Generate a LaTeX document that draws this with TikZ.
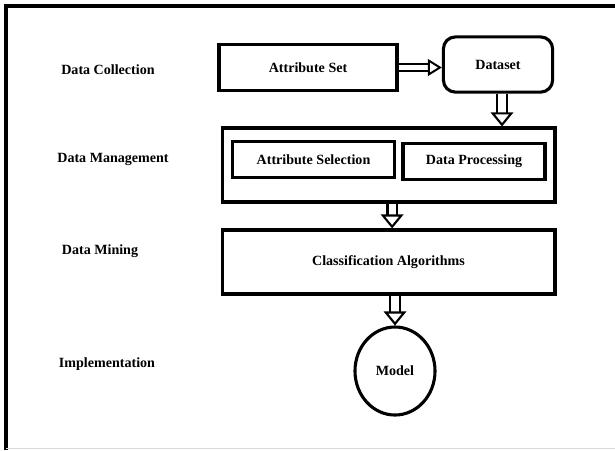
\documentclass[tikz,border=0pt]{standalone}
\usepackage{fontspec}
\setmainfont{Liberation Serif}
\usetikzlibrary{arrows.meta,shapes.geometric}

\tikzset{
  stage/.style={font=\bfseries\fontsize{10}{12}\selectfont},
  blockbox/.style={draw, line width=2.2pt, inner sep=0pt, font=\bfseries\fontsize{10}{12}\selectfont},
  hollowarrow/.style={double, double distance=5pt, line width=1.5pt,
    -{Triangle[length=10pt, width=16pt, fill=white, line width=1.5pt 0 0]}},
  sidearrow/.style={double, double distance=3.4pt, line width=1.4pt,
    -{Triangle[length=10pt, width=12pt, fill=white, line width=1.4pt 0 0]}},
}

\begin{document}
\begin{tikzpicture}[x=0.025cm, y=-0.025cm]
        \useasboundingbox (0, 0) rectangle (615, 450);
        % frame
        \draw[line width=2.2pt] (6, 450) -- (6, 6) -- (615, 6);
        \draw[black!15, line width=0.8pt] (6, 448.5) -- (615, 448.5);
        % stage labels
        \node[stage] (lblcollect) at (108, 70) {Data Collection};
        \node[stage] (lblmanage) at (113, 159) {Data Management};
        \node[stage] (lblmining) at (100, 251) {Data Mining};
        \node[stage] (lblimpl) at (107, 364) {Implementation};
        % blocks
        \node[blockbox, minimum width=4.45cm, minimum height=1.14cm] (attrset) at (308, 67.5) {Attribute Set};
        \node[blockbox, rounded corners=0.3cm, minimum width=2.73cm, minimum height=1.38cm] (dataset) at (498, 64.5) {Dataset};
        \node[blockbox, minimum width=8.32cm, minimum height=1.85cm] (mgmt) at (388.5, 165) {};
        \node[blockbox, minimum width=4.07cm, minimum height=0.88cm] (attrsel) at (313.5, 159.5) {Attribute Selection};
        \node[blockbox, minimum width=3.55cm, minimum height=0.92cm] (dataproc) at (474, 161.5) {Data Processing};
        \node[blockbox, minimum width=8.32cm, minimum height=1.6cm] (classalg) at (388.5, 262) {Classification Algorithms};
        \node[blockbox, ellipse, minimum width=2cm, minimum height=2.2cm] (model) at (395, 371) {Model};
        % arrows
        \draw[sidearrow] (attrset.east) -- (attrset.east -| dataset.west);
        \draw[hollowarrow] ([xshift=0.1cm]dataset.south) -- ([xshift=0.1cm]dataset.south |- mgmt.north);
        \draw[hollowarrow] ([xshift=0.09cm]mgmt.south) -- ([xshift=0.09cm]classalg.north);
        \draw[hollowarrow] (classalg.south -| model.north) -- (model.north);
\end{tikzpicture}
\end{document}
